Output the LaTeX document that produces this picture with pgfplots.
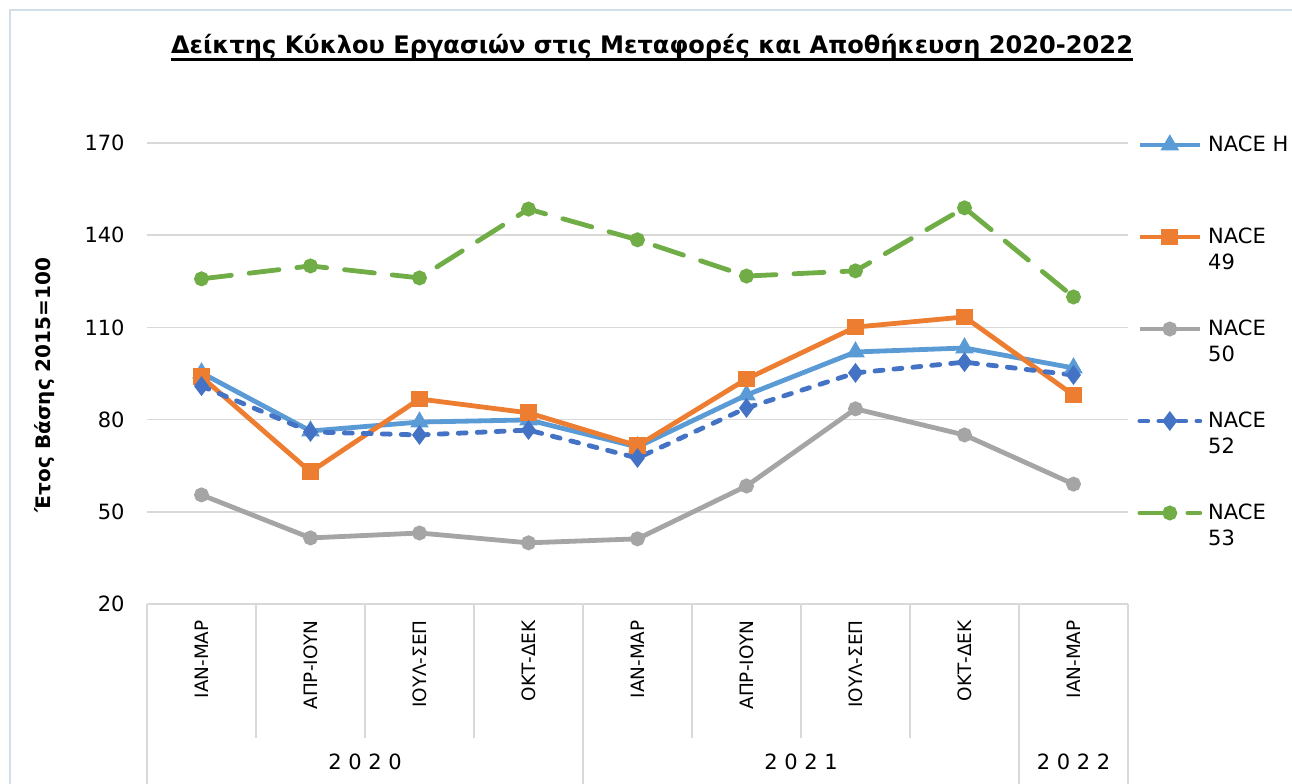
\documentclass[border=0pt]{standalone}
\usepackage{fontspec}
\setmainfont{DejaVu Sans}
\usepackage{pgfplots}
\pgfplotsset{compat=1.18}
\definecolor{cH}{HTML}{5B9BD5}
\definecolor{cA}{HTML}{ED7D31}
\definecolor{cB}{HTML}{A5A5A5}
\definecolor{cC}{HTML}{4472C4}
\definecolor{cD}{HTML}{70AD47}
\definecolor{gridc}{HTML}{D9D9D9}
\definecolor{framec}{RGB}{210,222,232}
\newcommand{\twoline}[2]{\begin{tabular}[t]{@{}l@{}}#1\\#2\end{tabular}}
\begin{document}
\begin{tikzpicture}
\path[use as bounding box] (0,0) rectangle (646pt,391.5pt);
\draw[framec, line width=0.8pt] (5pt,-10pt) -- (5pt,386.5pt) -- (660pt,386.5pt);
\node[font=\bfseries\fontsize{12.05}{14}\selectfont, inner sep=0pt, anchor=base] (t) at (326pt,364.5pt) {Δείκτης Κύκλου Εργασιών στις Μεταφορές και Αποθήκευση 2020-2022};
\draw[line width=1.2pt] ([yshift=-2.8pt]t.base west) -- ([yshift=-2.8pt]t.base east);
\begin{axis}[
  scale only axis, width=490.5pt, height=230.5pt,
  at={(73.5pt,89.5pt)}, anchor=south west,
  xmin=-0.5, xmax=8.5, ymin=20, ymax=170,
  ytick={20,50,...,170}, xtick={0,...,8},
  xticklabels={ΙΑΝ-ΜΑΡ,ΑΠΡ-ΙΟΥΝ,ΙΟΥΛ-ΣΕΠ,ΟΚΤ-ΔΕΚ,ΙΑΝ-ΜΑΡ,ΑΠΡ-ΙΟΥΝ,ΙΟΥΛ-ΣΕΠ,ΟΚΤ-ΔΕΚ,ΙΑΝ-ΜΑΡ},
  ymajorgrids, grid style={gridc, line width=0.8pt},
  axis line style={draw=none}, major tick length=0pt,
  tick label style={font=\fontsize{10.5}{12}\selectfont},
  xticklabel style={rotate=90, anchor=east, inner sep=0pt, font=\fontsize{9.2}{11}\selectfont},
  xticklabel shift=8pt,
  yticklabel style={inner sep=0pt},
  yticklabel shift=11pt,
  /pgf/number format/assume math mode=true,
  ylabel={Έτος Βάσης 2015=100},
  ylabel style={font=\bfseries\fontsize{10}{12}\selectfont, at={(axis description cs:-0.104,0.475)}, anchor=center},
  clip=false,
  legend image code/.code={\draw[yshift=6.5pt, mark repeat=2,mark phase=2,#1] plot coordinates {(0pt,0pt) (15pt,0pt) (30pt,0pt)};},
  legend cell align=left,
  legend style={draw=none, fill=none, at={(axis description cs:1.0092,1)}, anchor=north west, yshift=5.2pt,
    inner sep=0pt, row sep=21pt, column sep=3pt,
    nodes={inner sep=0pt, text height=9pt, text depth=16pt, font=\fontsize{10.5}{13}\selectfont}},
]
\addplot[cH, line width=2.4pt, mark=triangle*, mark size=3pt, mark options={solid, fill=cH}] coordinates {
(0,95.2) (1,76.3) (2,79.2) (3,79.9) (4,71.1) (5,88.0) (6,102.0) (7,103.3) (8,96.8)};
\addlegendentry{NACE H}
\addplot[cA, line width=2.4pt, mark=square*, mark size=3pt, mark options={solid, fill=cA}] coordinates {
(0,93.9) (1,63.0) (2,86.7) (3,82.2) (4,71.5) (5,93.2) (6,110.1) (7,113.4) (8,88.0)};
\addlegendentry{\twoline{NACE}{49}}
\addplot[cB, line width=2.4pt, mark=*, mark size=2.5pt, mark options={solid, fill=cB}] coordinates {
(0,55.5) (1,41.5) (2,43.1) (3,39.9) (4,41.2) (5,58.4) (6,83.5) (7,75.0) (8,59.0)};
\addlegendentry{\twoline{NACE}{50}}
\addplot[cC, line width=2.4pt, line cap=round, dash pattern=on 4pt off 5.5pt, mark=diamond*, mark size=3pt, mark options={solid, fill=cC}] coordinates {
(0,90.9) (1,76.0) (2,75.0) (3,76.6) (4,67.5) (5,83.8) (6,95.2) (7,98.7) (8,94.5)};
\addlegendentry{\twoline{NACE}{52}}
\addplot[cD, line width=2.4pt, line cap=round, dash pattern=on 15pt off 9pt, mark=*, mark size=2.5pt, mark options={solid, fill=cD}] coordinates {
(0,125.8) (1,130.0) (2,126.1) (3,148.5) (4,138.5) (5,126.7) (6,128.4) (7,148.9) (8,119.9)};
\addlegendentry{\twoline{NACE}{53}}
% category separators
\pgfplotsinvokeforeach{0.5,1.5,2.5,4.5,5.5,6.5}{
  \draw[gridc, line width=0.8pt] (axis cs:#1,20) -- ++(0pt,-67pt);
}
\pgfplotsinvokeforeach{-0.5,3.5,7.5,8.5}{
  \draw[gridc, line width=0.8pt] (axis cs:#1,20) -- ++(0pt,-92pt);
}
\node[font=\fontsize{10.5}{12}\selectfont, yshift=-79pt] at (axis cs:1.5,20) {2 0 2 0};
\node[font=\fontsize{10.5}{12}\selectfont, yshift=-79pt] at (axis cs:5.5,20) {2 0 2 1};
\node[font=\fontsize{10.5}{12}\selectfont, yshift=-79pt] at (axis cs:8,20) {2 0 2 2};
\end{axis}
\end{tikzpicture}
\end{document}
